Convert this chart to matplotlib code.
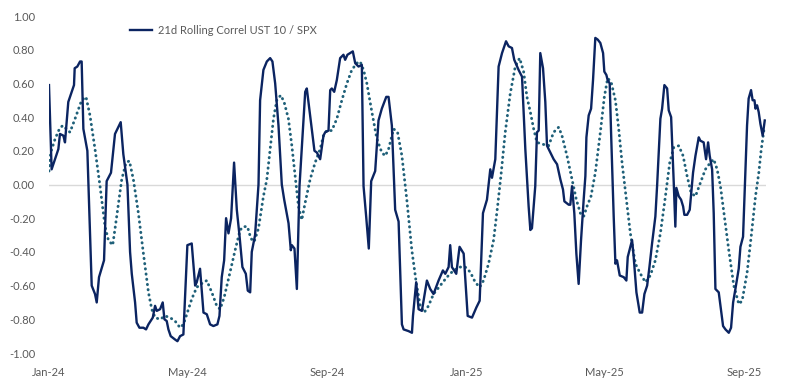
import pandas as pd
import numpy as np
import matplotlib
matplotlib.use('Agg')
import matplotlib.pyplot as plt
import matplotlib.dates as mdates

#21d rolling correlation (days since 1 Jan 2024, value)
corr_days = [0, 2.3, 8.2, 9.6, 12.6, 14.0, 16.9, 19.9, 21.9, 22.5,
             24.8, 27.2, 28.6, 30.1, 33.6, 37.4, 40.3, 41.8, 43.8, 48.2,
             50.5, 54.3, 57.8, 62.8, 65.1, 68.7, 71.0, 72.5, 75.4, 76.8,
             79.2, 82.7, 85.0, 87.1, 90.9, 92.9, 94.4, 97.3, 99.6, 101.1,
             103.1, 104.6, 106.6, 110.4, 112.5, 114.8, 117.7, 121.2, 125.0, 128.0,
             129.4, 132.3, 135.3, 138.2, 141.1, 144.0, 147.5, 149.3, 151.3, 153.4,
             155.1, 157.2, 159.5, 162.1, 164.5, 166.8, 169.4, 172.4, 174.1, 176.2,
             177.6, 180.5, 183.5, 184.9, 187.8, 190.8,
             193.7, 195.7, 198.1, 201.0, 203.9, 206.0, 209.8, 211.8, 212.7, 215.0,
             217.1, 219.4, 222.3, 224.4, 225.8, 228.7, 232.5, 234.6, 237.5, 240.4,
             241.9, 244.8, 246.3, 247.7, 249.8, 252.1, 255.0, 257.9, 259.4, 261.4,
             266.1, 268.2, 271.1, 274.0, 275.5, 277.8, 280.1, 282.2, 285.7, 288.6,
             291.5, 295.4, 297.4, 300.3, 303.2, 306.2, 309.1, 310.6, 314.9, 317.9,
             318.8, 321.6, 323.7, 326.6, 331.0, 333.9, 336.8, 341.2, 345.0, 347.1,
             350.0, 351.4, 352.9, 356.7, 359.6, 363.2, 366.7, 370.5, 374.3, 377.2,
             380.1, 383.6, 386.5, 388.0, 390.9, 393.8, 396.8, 400.3, 402.6, 405.5,
             407.5, 411.3,
             414.3, 417.2, 420.1, 421.6, 423.0, 425.9, 427.4, 428.9, 430.3, 432.7,
             434.7, 436.2, 439.1, 442.0, 445.0, 447.9, 450.2, 451.4, 455.2, 456.6,
             458.1, 460.1, 461.9, 463.9, 466.0, 468.3, 469.8, 470.7, 472.7, 474.8,
             476.5, 478.5, 480.6, 482.9, 485.3, 486.4, 488.2, 489.3, 491.1, 492.3,
             494.6, 496.1, 497.5, 499.9, 503.4, 505.7, 506.9, 510.7, 512.1, 514.5,
             517.4, 519.5, 521.5, 523.9, 525.9, 528.2, 531.1, 532.6, 535.5, 537.0,
             539.0, 541.4, 542.8, 544.9, 547.2, 548.6, 549.5, 551.6, 553.6, 555.4,
             556.5, 558.9, 561.2, 564.1, 566.2, 569.1, 570.5, 573.4, 575.5, 577.3,
             578.7, 580.8, 582.2, 583.7, 586.6, 588.1, 590.4, 592.5, 595.4, 597.4,
             599.2, 601.2, 604.1, 605.6, 607.9, 609.9, 611.4, 612.8, 614.9, 616.3,
             617.9, 618.8, 620.2, 621.6, 623.1, 625.1, 626.9]
corr_vals = [0.59, 0.09, 0.21, 0.30, 0.29, 0.25, 0.49, 0.55, 0.59, 0.69,
             0.70, 0.73, 0.73, 0.33, 0.20, -0.60, -0.65, -0.70, -0.55, -0.45,
             0.02, 0.07, 0.30, 0.37, 0.18, 0.00, -0.40, -0.53, -0.70, -0.82,
             -0.85, -0.85, -0.86, -0.83, -0.79, -0.72, -0.75, -0.74, -0.70, -0.80,
             -0.81, -0.86, -0.90, -0.92, -0.93, -0.90, -0.89, -0.36, -0.35, -0.60,
             -0.58, -0.50, -0.76, -0.77, -0.83, -0.84, -0.83, -0.78, -0.55, -0.45,
             -0.20, -0.29, -0.20, 0.13, -0.15, -0.30, -0.49, -0.53, -0.63, -0.64,
             -0.40, -0.30, 0.00, 0.50, 0.68, 0.73,
             0.75, 0.73, 0.60, 0.35, 0.00, -0.09, -0.23, -0.39, -0.36, -0.38,
             -0.62, -0.01, 0.31, 0.55, 0.57, 0.41, 0.20, 0.19, 0.15, 0.29,
             0.31, 0.32, 0.56, 0.57, 0.55, 0.62, 0.75, 0.77, 0.74, 0.77,
             0.79, 0.72, 0.70, 0.71, -0.01, -0.19, -0.38, 0.02, 0.08, 0.38,
             0.45, 0.52, 0.52, 0.35, -0.15, -0.22, -0.83, -0.86, -0.87, -0.88,
             -0.78, -0.58, -0.74, -0.75, -0.57, -0.62, -0.65, -0.57, -0.51, -0.53,
             -0.49, -0.36, -0.49, -0.53, -0.37, -0.41, -0.78, -0.79, -0.73, -0.69,
             -0.17, -0.09, 0.09, 0.04, 0.15, 0.70, 0.78, 0.85, 0.82, 0.81,
             0.74, 0.68,
             0.64, 0.21, -0.13, -0.27, -0.26, -0.01, 0.31, 0.32, 0.78, 0.69,
             0.49, 0.23, 0.19, 0.15, 0.12, 0.03, -0.03, -0.10, -0.12, -0.12,
             -0.01, -0.17, -0.41, -0.59, -0.33, -0.09, 0.05, 0.28, 0.41, 0.45,
             0.62, 0.87, 0.86, 0.84, 0.78, 0.67, 0.65, 0.62, 0.60, 0.31,
             -0.19, -0.47, -0.45, -0.54, -0.55, -0.57, -0.43, -0.33, -0.43, -0.64,
             -0.76, -0.76, -0.65, -0.60, -0.49, -0.35, -0.19, -0.01, 0.39, 0.45,
             0.59, 0.57, 0.44, 0.40, 0.01, -0.25, -0.02, -0.07, -0.09, -0.13,
             -0.18, -0.18, -0.15, 0.07, 0.17, 0.28, 0.26, 0.25, 0.15, 0.25,
             0.17, 0.09, -0.17, -0.62, -0.64, -0.72, -0.84, -0.86, -0.88, -0.85,
             -0.70, -0.62, -0.50, -0.37, -0.31, 0.07, 0.35, 0.51, 0.56, 0.50,
             0.50, 0.45, 0.47, 0.43, 0.36, 0.29, 0.38]

#Smoothed correlation (dotted)
avg_days = [0, 1.5, 5.3, 9.1, 12.0, 18.4, 22.8, 28.6, 32.4, 35.9,
            40.3, 44.7, 49.1, 52.0, 55.8, 59.3, 63.7, 67.5, 70.4, 73.9,
            78.3, 82.7, 87.1, 90.0, 92.9, 97.3, 101.7, 106.0, 110.4, 114.8,
            117.7, 120.7, 125.0, 129.4, 133.2, 138.2, 142.6, 146.9, 149.9, 153.4,
            158.6, 163.0, 167.4, 170.3, 173.8, 176.8, 179.7, 183.5, 187.8, 190.8,
            193.7, 196.6, 199.5, 203.0, 205.9, 209.7, 212.7, 215.6, 218.5, 221.4,
            224.3, 228.7, 233.1, 237.5, 240.4, 243.3, 247.7, 252.1, 256.5, 260.9,
            265.2, 269.6, 272.5, 275.5, 278.4, 282.8, 287.2, 291.5, 294.5, 297.4,
            301.8, 305.3, 309.1, 313.4, 317.8, 321.6, 325.1, 328.6, 332.4, 336.8,
            342.7, 348.5, 354.3, 360.2, 364.6, 369.0, 373.3, 377.2, 380.6, 385.0,
            389.4, 392.9, 395.8, 399.6, 404.0, 408.4, 412.2,
            415.7, 418.6, 421.6, 424.5, 427.4, 431.8, 437.6, 442.0, 446.4, 449.3,
            453.7, 458.1, 461.9, 465.4, 468.3, 471.2, 474.7, 478.5, 482.9, 486.4,
            489.3, 492.3, 496.1, 499.0, 501.9, 505.7, 509.2, 513.6, 518.0, 522.4,
            526.7, 531.1, 535.5, 539.9, 543.7, 547.2, 551.6, 555.4, 558.9, 562.4,
            566.2, 570.6, 574.9, 579.3, 582.2, 585.2, 588.1, 591.6, 595.4, 599.8,
            604.2, 607.1, 611.5, 615.0, 618.8, 621.7, 623.7, 626.1]
avg_vals = [0.08, 0.19, 0.27, 0.33, 0.35, 0.31, 0.39, 0.50, 0.52, 0.41,
            0.21, -0.01, -0.25, -0.33, -0.36, -0.19, 0.03, 0.13, 0.14, 0.03,
            -0.17, -0.41, -0.64, -0.74, -0.79, -0.80, -0.78, -0.79, -0.81, -0.85,
            -0.83, -0.77, -0.68, -0.61, -0.59, -0.57, -0.64, -0.72, -0.74, -0.67,
            -0.52, -0.39, -0.27, -0.25, -0.25, -0.32, -0.34, -0.26, -0.07, 0.03,
            0.21, 0.39, 0.50, 0.53, 0.49, 0.39, 0.23, 0.05, -0.13, -0.21,
            -0.11, 0.03, 0.13, 0.21, 0.29, 0.32, 0.32, 0.39, 0.50, 0.60,
            0.68, 0.72, 0.73, 0.68, 0.60, 0.43, 0.27, 0.19, 0.17, 0.21,
            0.33, 0.31, 0.17, -0.09, -0.39, -0.58, -0.72, -0.76, -0.72, -0.65,
            -0.60, -0.55, -0.51, -0.49, -0.49, -0.52, -0.58, -0.61, -0.57, -0.47,
            -0.33, -0.13, 0.05, 0.31, 0.54, 0.70, 0.75,
            0.67, 0.52, 0.43, 0.33, 0.25, 0.24, 0.23, 0.31, 0.34, 0.29,
            0.17, 0.03, -0.09, -0.17, -0.19, -0.13, -0.07, 0.07, 0.31, 0.52,
            0.63, 0.61, 0.50, 0.33, 0.13, -0.09, -0.29, -0.47, -0.53, -0.58,
            -0.54, -0.45, -0.29, -0.07, 0.13, 0.22, 0.23, 0.17, 0.05, -0.05,
            -0.07, 0.01, 0.09, 0.13, 0.15, 0.09, -0.01, -0.19, -0.39, -0.60,
            -0.71, -0.69, -0.52, -0.31, -0.07, 0.07, 0.20, 0.32]

tick_dates = ['2024-01-01', '2024-05-01', '2024-09-01',
              '2025-01-01', '2025-05-01', '2025-09-01']

start = pd.Timestamp('2024-01-01')
corr_x = start + pd.to_timedelta(corr_days, unit='D')
avg_x = start + pd.to_timedelta(avg_days, unit='D')

grey = '#595959'
fig = plt.figure(figsize=(7.86, 3.83), dpi=100)
ax = fig.add_axes([49/786, 30/383, 717/786, 337/383])

ax.axhline(0, color='#D9D9D9', lw=1, zorder=1)
ax.plot(avg_x, avg_vals, color='#1F6079', lw=2.1,
        linestyle=(0, (0.1, 1.7)), dash_capstyle='round', zorder=2)
ax.plot(corr_x, corr_vals, color='#0B2461', lw=1.7,
        label='21d Rolling Correl UST 10 / SPX', zorder=3)

ax.set_ylim(-1, 1)
ax.set_yticks(np.arange(-1, 1.01, 0.2))
ax.yaxis.set_major_formatter(plt.FuncFormatter(lambda v, p: f'{round(v, 2) + 0.0:.2f}'))
ax.set_xlim(start, start + pd.Timedelta(days=628))
ax.set_xticks(pd.to_datetime(tick_dates))
ax.xaxis.set_major_formatter(mdates.DateFormatter('%b-%y'))

for s in ax.spines.values():
    s.set_visible(False)
ax.tick_params(length=0, labelsize=8, labelcolor=grey)
ax.tick_params(axis='y', pad=10)
ax.tick_params(axis='x', pad=10)
for lbl in ax.get_xticklabels() + ax.get_yticklabels():
    lbl.set_fontfamily('Lato')

leg = ax.legend(loc='upper left', bbox_to_anchor=(130/786, 1 - 25/383),
                bbox_transform=fig.transFigure, frameon=False,
                borderpad=0, borderaxespad=0, handlelength=2.0,
                handletextpad=0.5, prop={'family': 'Lato', 'size': 8})
for t in leg.get_texts():
    t.set_color(grey)

fig.savefig('out.png', dpi=100)
